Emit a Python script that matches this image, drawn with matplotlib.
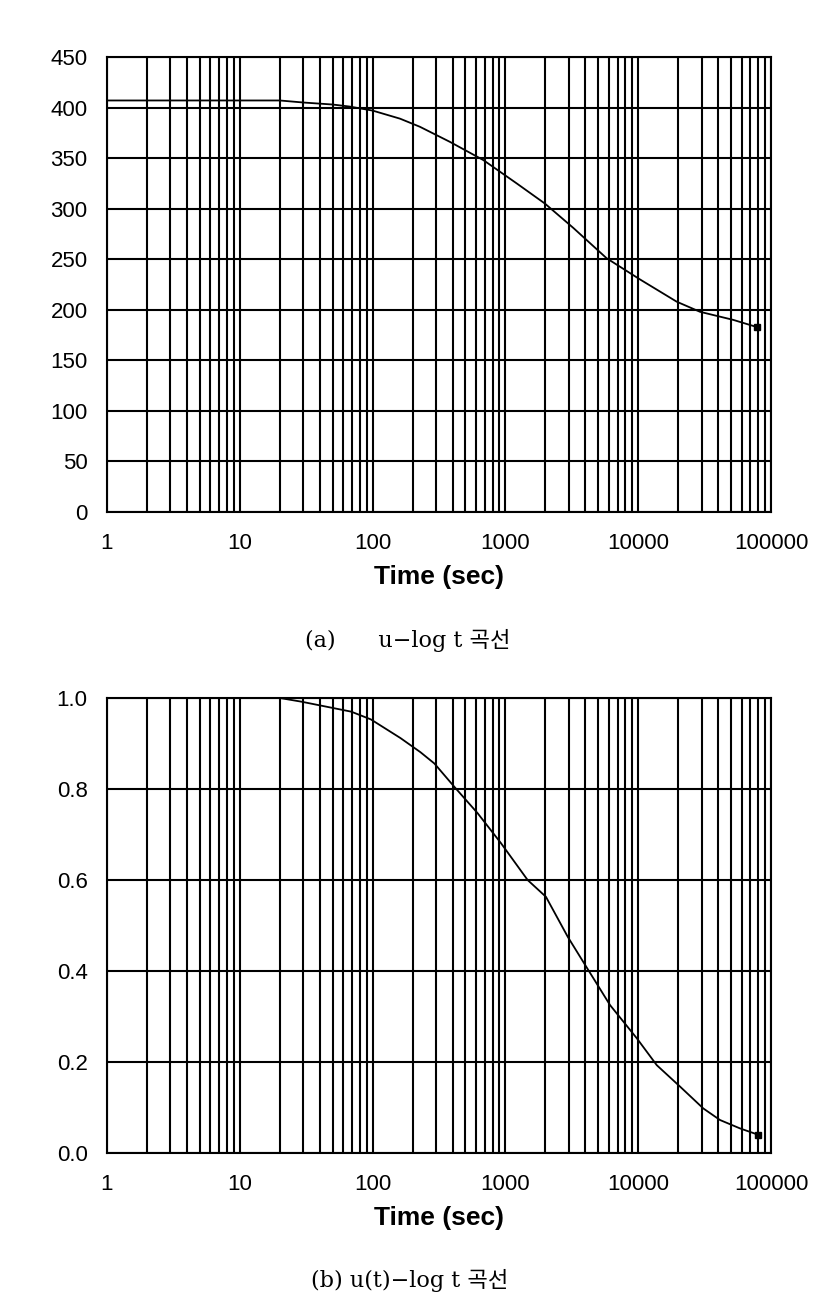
import matplotlib
matplotlib.use("Agg")
import matplotlib.pyplot as plt
from matplotlib.ticker import LogLocator, FixedLocator, NullFormatter, FixedFormatter

# ---- data ----
time_a = [1, 20, 30, 50, 67, 100, 161, 227, 383, 683, 1216, 1986, 3244, 5780,
          10320, 19500, 29200, 52000, 77900]
settle_a = [407, 407, 405, 403, 401, 397, 389, 381, 366, 348, 325, 305, 281, 251,
            230, 208, 198, 190, 183]

time_b = [20, 29, 69, 97, 162, 229, 292, 412, 617, 926, 1470, 2020, 2950, 4050,
          6140, 9770, 13800, 20650, 30900, 41300, 58500, 80300]
ratio_b = [1.0, 0.992, 0.97, 0.953, 0.912, 0.881, 0.856, 0.805, 0.747, 0.681, 0.60,
           0.563, 0.475, 0.41, 0.325, 0.252, 0.193, 0.146, 0.098, 0.0725, 0.054, 0.04]

x_ticks = [1, 10, 100, 1000, 10000, 100000]
x_ticklabels = ["1", "10", "100", "1000", "10000", "100000"]
y_ticks_a = [0, 50, 100, 150, 200, 250, 300, 350, 400, 450]
y_ticks_b = [0.0, 0.2, 0.4, 0.6, 0.8, 1.0]
y_ticklabels_b = ["0.0", "0.2", "0.4", "0.6", "0.8", "1.0"]
xlabel = "Time (sec)"
caption_a = "(a)      u\u2212log t 곡선"
caption_b = "(b) u(t)\u2212log t 곡선"

fig = plt.figure(figsize=(8.37, 12.95), dpi=100)

W = 837.0
H = 1295.0

def make_axes(top_px, bottom_px):
    left, right = 107 / W, 771 / W
    return fig.add_axes([left, 1 - bottom_px / H, right - left, (bottom_px - top_px) / H])

tick_family = ["Liberation Sans", "DejaVu Sans"]

def style(ax, yticks, ylabels, ylim):
    ax.set_xscale("log")
    ax.set_xlim(1, 100000)
    ax.set_ylim(*ylim)
    ax.xaxis.set_major_locator(FixedLocator(x_ticks))
    ax.xaxis.set_major_formatter(FixedFormatter(x_ticklabels))
    ax.xaxis.set_minor_locator(LogLocator(base=10, subs=range(2, 10), numticks=20))
    ax.xaxis.set_minor_formatter(NullFormatter())
    ax.set_yticks(yticks)
    ax.set_yticklabels(ylabels)
    ax.grid(True, which="major", axis="both", color="black", linewidth=1.5)
    ax.grid(True, which="minor", axis="x", color="black", linewidth=1.5)
    ax.set_axisbelow(True)
    ax.tick_params(which="both", length=0)
    ax.tick_params(axis="x", pad=15)
    ax.tick_params(axis="y", pad=14)
    for lab in ax.get_xticklabels() + ax.get_yticklabels():
        lab.set_fontfamily(tick_family)
        lab.set_fontsize(16)
    for sp in ax.spines.values():
        sp.set_linewidth(1.5)
        sp.set_color("black")
    ax.set_xlabel(xlabel, fontsize=19, fontweight="bold",
                  family=tick_family, labelpad=8)

ax1 = make_axes(57, 512)
ax1.plot(time_a, settle_a, color="black", linewidth=1.3)
ax1.plot(time_a[-1:], settle_a[-1:], marker="s", markersize=4, color="black")
style(ax1, y_ticks_a, [str(v) for v in y_ticks_a], (0, 450))

ax2 = make_axes(698, 1153)
ax2.plot(time_b, ratio_b, color="black", linewidth=1.3)
ax2.plot(time_b[-1:], ratio_b[-1:], marker="s", markersize=4, color="black")
style(ax2, y_ticks_b, y_ticklabels_b, (0, 1.0))

cap_family = ["DejaVu Serif", "Noto Sans CJK KR"]
fig.text(408 / W, 1 - 640 / H, caption_a, ha="center", va="center",
         fontsize=16, family=cap_family)
fig.text(410 / W, 1 - 1280 / H, caption_b, ha="center", va="center",
         fontsize=16, family=cap_family)

fig.savefig("out.png", dpi=100)
